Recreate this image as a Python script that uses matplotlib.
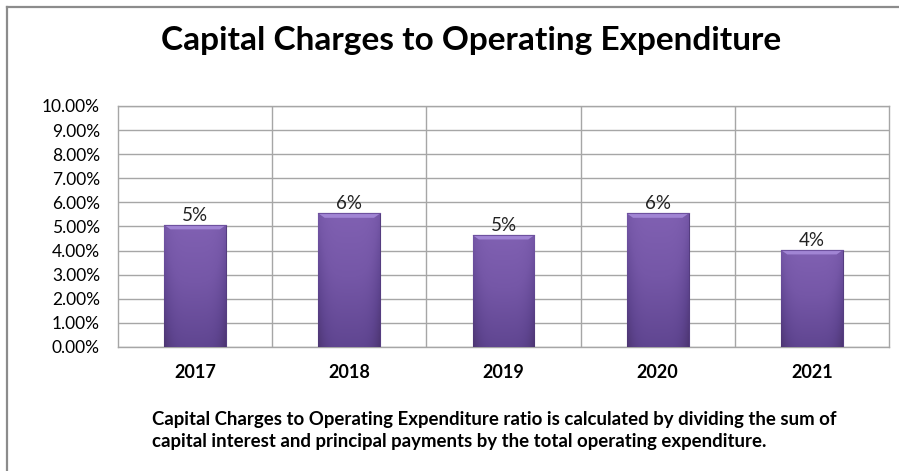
import numpy as np
import matplotlib.pyplot as plt
from matplotlib.colors import LinearSegmentedColormap
from matplotlib.ticker import FuncFormatter, MultipleLocator

years = ['2017', '2018', '2019', '2020', '2021']
ratios = [0.0506, 0.0554, 0.0464, 0.0554, 0.0402]

title = 'Capital Charges to Operating Expenditure'
note = ('Capital Charges to Operating Expenditure ratio is calculated by dividing the sum of\n'
        'capital interest and principal payments by the total operating expenditure.')

plt.rcParams['font.family'] = ['Lato', 'DejaVu Sans']

fig = plt.figure(figsize=(8.99, 4.71), dpi=100)
ax = fig.add_axes([0.1313, 0.2633, 0.8576, 0.5117])

x = np.arange(len(years))
bars = ax.bar(x, ratios, width=0.40, color='#6c4f9c', edgecolor='#553d80', lw=0.8, zorder=3)

# shaded fill for each bar: darker towards the edges and the bottom
cmap = LinearSegmentedColormap.from_list('bar', ['#4a336e', '#5f4590', '#7557a7', '#8262b4'])
h = np.linspace(0, 1, 60)[None, :]
v = np.linspace(0, 1, 60)[:, None]
shade = 0.35 + 0.6 * v - 0.3 * (np.abs(h - 0.5) * 2) ** 4
for b in bars:
    x0, y0 = b.get_x(), b.get_y()
    w, ht = b.get_width(), b.get_height()
    im = ax.imshow(shade, cmap=cmap, vmin=0, vmax=1, origin='lower', aspect='auto',
                   extent=[x0, x0 + w, y0, y0 + ht], zorder=4, interpolation='bilinear')
    im.set_clip_path(b)
    # light bevel on top
    bev = 0.0018
    ax.fill([x0, x0 + w, x0 + w - 0.04, x0 + 0.04],
            [y0 + ht, y0 + ht, y0 + ht - bev, y0 + ht - bev],
            color='#a185d4', zorder=5, lw=0)
    ax.plot([x0, x0 + w], [y0 + ht, y0 + ht], color='#6e519f', lw=0.8, zorder=6)
    ax.text(x0 + w / 2, y0 + ht + 0.0006, '{:.0%}'.format(ht), ha='center', va='bottom',
            fontsize=13.5, color='#222222', zorder=6)

ax.set_xlim(-0.5, len(years) - 0.5)
ax.set_ylim(0, 0.10)
ax.yaxis.set_major_locator(MultipleLocator(0.01))
ax.yaxis.set_major_formatter(FuncFormatter(lambda v, p: '{:.2%}'.format(v)))
ax.grid(axis='y', color='#a6a6a6', lw=1, zorder=1)
for xb in np.arange(0.5, len(years) - 0.5):
    ax.axvline(xb, color='#a6a6a6', lw=1, zorder=1)

ax.set_xticks(x)
ax.set_xticklabels(years, fontweight='bold', fontsize=13)
ax.tick_params(axis='x', length=0, pad=12)
ax.tick_params(axis='y', length=0, pad=13, labelsize=12.5)
for s in ax.spines.values():
    s.set_color('#a6a6a6')
    s.set_linewidth(1)

fig.text(0.5245, 0.915, title, ha='center', va='center', fontsize=24, fontweight='bold')
fig.text(152 / 899, 0.086, note, ha='left', va='center', multialignment='left',
         fontsize=13.4, fontweight='bold', linespacing=1.3)

# outer frame (top and left edges)
fig.add_artist(plt.Line2D([7 / 899, 1], [1 - 6.5 / 471] * 2, color='#8c8c8c', lw=1.6,
                          transform=fig.transFigure))
fig.add_artist(plt.Line2D([7 / 899] * 2, [0, 1 - 6.5 / 471], color='#8c8c8c', lw=1.6,
                          transform=fig.transFigure))

fig.savefig('out.png', dpi=100)
